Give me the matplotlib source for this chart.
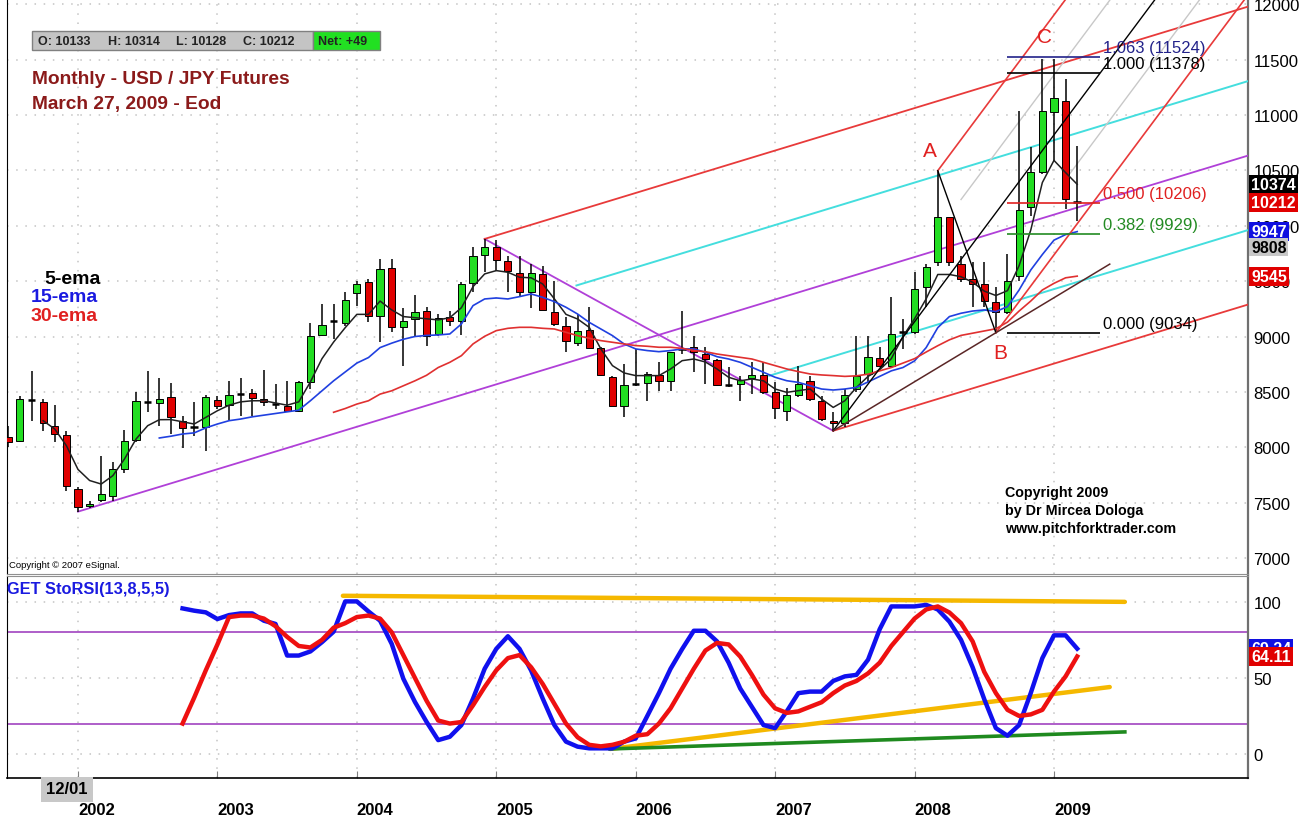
import matplotlib
matplotlib.use("Agg")
import matplotlib.pyplot as plt
import matplotlib.transforms as mtransforms
from matplotlib.patches import Rectangle
import numpy as np

plt.rcParams['font.family'] = ['Liberation Sans', 'DejaVu Sans']

W, H = 1313, 820

# monthly bars, bar 0 = Jul 2001, last bar = Mar 2009
first_year, first_month = 2001, 7
opens = [8090, 8060, 8430, 8412, 8189, 8114, 7623, 7467, 7527, 7563,
         7804, 8069, 8408, 8400, 8451, 8240, 8180, 8180, 8430, 8385,
         8481, 8487, 8436, 8391, 8376, 8331, 8586, 9014, 9143, 9119,
         9390, 9489, 9188, 9619, 9089, 9158, 9228, 9023, 9179, 9143,
         9483, 9736, 9805, 9685, 9571, 9399, 9565, 9225, 9092, 8942,
         9059, 8893, 8638, 8376, 8571, 8580, 8656, 8596, 8887, 8902,
         8842, 8788, 8562, 8571, 8625, 8656, 8502, 8331, 8475, 8601,
         8421, 8240, 8219, 8526, 8662, 8802, 8736, 9037, 9037, 9443,
         9669, 10075, 9654, 9519, 9474, 9308, 9218, 9549, 10166, 10482,
         11024, 11129, 10225]
highs = [8195, 8466, 8692, 8436, 8382, 8150, 7638, 7518, 7924, 7864,
         8156, 8496, 8692, 8623, 8577, 8285, 8412, 8475, 8466, 8601,
         8623, 8526, 8701, 8571, 8601, 8601, 9119, 9294, 9294, 9405,
         9504, 9519, 9700, 9700, 9255, 9375, 9264, 9203, 9233, 9489,
         9805, 9881, 9870, 9730, 9730, 9655, 9640, 9504, 9173, 9203,
         9264, 8902, 8647, 8752, 8887, 8677, 8767, 8863, 9233, 9008,
         8902, 8797, 8722, 8647, 8767, 8767, 8586, 8532, 8737, 8647,
         8466, 8322, 8526, 9008, 9008, 8902, 9353, 9157, 9579, 9654,
         10497, 10075, 9729, 9669, 9669, 9443, 9744, 11039, 10708, 11505,
         11505, 11325, 10723]
lows = [7999, 8050, 8240, 8150, 8045, 7608, 7419, 7448, 7503, 7518,
        7765, 8045, 8322, 8195, 8120, 7990, 8105, 7970, 8345, 8249,
        8285, 8285, 8376, 8346, 8322, 8316, 8526, 9008, 8978, 9098,
        9279, 9128, 8948, 9038, 8737, 9008, 8918, 9008, 9098, 9014,
        9399, 9580, 9595, 9399, 9354, 9255, 9240, 9098, 8857, 8917,
        8896, 8647, 8376, 8270, 8556, 8421, 8511, 8511, 8842, 8677,
        8571, 8556, 8541, 8421, 8481, 8481, 8255, 8240, 8451, 8421,
        8240, 8149, 8180, 8496, 8586, 8721, 8721, 8887, 9022, 9263,
        9639, 9639, 9495, 9263, 9263, 9034, 9203, 9504, 10091, 10467,
        10587, 10151, 10045]
closes = [8045, 8436, 8430, 8216, 8120, 7647, 7458, 7487, 7577, 7804,
          8060, 8415, 8408, 8436, 8270, 8174, 8180, 8451, 8370, 8475,
          8481, 8442, 8406, 8391, 8331, 8586, 9008, 9104, 9143, 9330,
          9474, 9182, 9610, 9089, 9143, 9218, 9002, 9165, 9143, 9474,
          9724, 9811, 9691, 9595, 9399, 9571, 9240, 9113, 8957, 9053,
          8896, 8656, 8376, 8565, 8571, 8662, 8601, 8857, 8887, 8857,
          8797, 8562, 8562, 8610, 8656, 8496, 8352, 8472, 8571, 8436,
          8255, 8216, 8475, 8646, 8812, 8736, 9022, 9037, 9428, 9624,
          10075, 9669, 9519, 9474, 9323, 9218, 9504, 10145, 10482, 11039,
          11150, 10241, 10212]

# moving averages (first bar index, values)
ema5_start = 3
ema5 = [8240, 8165, 8015, 7800, 7700, 7668, 7744, 7894, 8075, 8195, 8249,
        8250, 8230, 8210, 8270, 8330, 8380, 8410, 8420, 8420, 8400,
        8380, 8410, 8590, 8800, 8950, 9080, 9200, 9200, 9320, 9240,
        9180, 9170, 9160, 9150, 9170, 9260, 9450, 9565, 9595, 9580,
        9535, 9530, 9474, 9340, 9200, 9158, 9083, 8888, 8737, 8671,
        8647, 8647, 8647, 8707, 8782, 8797, 8770, 8707, 8632, 8600,
        8617, 8600, 8526, 8496, 8511, 8526, 8436, 8360, 8420, 8540,
        8640, 8700, 8800, 9000, 9160, 9340, 9560, 9560, 9540, 9490,
        9410, 9370, 9414, 9640, 9960, 10390, 10590, 10480, 10374]
ema15_start = 13
ema15 = [8084, 8100, 8120, 8130, 8175, 8210, 8240, 8255, 8275, 8290,
         8305, 8320, 8335, 8420, 8510, 8600, 8680, 8760, 8810, 8900,
         8940, 8975, 9000, 9010, 9014, 9023, 9113, 9279, 9339, 9348,
         9339, 9360, 9384, 9354, 9315, 9264, 9203, 9128, 9068, 9008,
         8933, 8888, 8873, 8863, 8873, 8888, 8888, 8857, 8818, 8797,
         8767, 8722, 8677, 8632, 8601, 8586, 8556, 8526, 8517, 8526,
         8541, 8590, 8640, 8690, 8720, 8780, 8900, 9080, 9180, 9210,
         9230, 9240, 9225, 9270, 9420, 9600, 9740, 9870, 9920, 9947]
ema30_start = 28
ema30 = [8316, 8350, 8390, 8420, 8480, 8510, 8555, 8600, 8650, 8720,
         8767, 8827, 8933, 9002, 9053, 9074, 9083, 9083, 9074, 9068,
         9038, 9008, 8984, 8963, 8948, 8933, 8918, 8912, 8903, 8903,
         8893, 8873, 8863, 8842, 8827, 8812, 8797, 8767, 8737, 8707,
         8683, 8662, 8653, 8647, 8640, 8645, 8660, 8690, 8720, 8760,
         8800, 8860, 8917, 8970, 9010, 9030, 9050, 9070, 9130, 9230,
         9320, 9420, 9480, 9530, 9545]

# StoRSI(13,8,5,5)
sto_start = 15
sto_fast = [95.7, 94.2, 93.1, 88.7, 91.3, 92.4, 92.4, 87.6, 85.5, 64.7,
            64.7, 67.4, 73.5, 80.4, 100.3, 100.3, 93.7, 87.6, 72.4, 49.5,
            34.2, 21.1, 9.1, 11.3, 19.0, 36.4, 56.0, 69.1, 77.4, 69.1,
            54.9, 36.4, 19.0, 8.1, 4.8, 3.7, 3.7, 3.7, 8.1, 10.2,
            25, 40, 56, 69, 81, 81, 74, 60, 43, 31,
            19, 17, 28, 40, 41, 41, 48, 51, 52, 62,
            82, 97, 97, 97, 98, 95, 87, 75, 57, 36,
            17, 12, 19, 40, 63, 78, 78, 69.24]
sto_slow = [20, 37, 55, 72, 90, 91, 91, 89, 84, 77,
            71, 70, 75, 83, 86, 90, 91, 89, 80, 65,
            50, 35, 22, 20, 21, 32, 44, 55, 63, 65,
            57, 46, 33, 20, 11, 6, 5, 6, 8, 12,
            13, 20, 30, 43, 56, 68, 73, 72, 64, 52,
            39, 30, 27, 28, 31, 34, 40, 45, 48, 53,
            60, 71, 80, 89, 95, 97, 93, 86, 74, 54,
            40, 29, 25, 26, 29, 41, 51, 64.11]
sto_levels = [20, 80]
# hand-drawn trend lines on the oscillator: (x0, v0, x1, v1)
sto_top_line = (28.8, 104, 96.1, 100)
sto_rise_line = (51.8, 3.3, 94.8, 44)
sto_base_line = (51.8, 3.3, 96.1, 14.5)

# pitchforks: (bar, price) pivots
fork1 = [(6, 7419), (41, 9881), (71, 8149)]
fork2 = [(71, 8149), (80, 10497), (85, 9034)]

# fibonacci retracement block
fib_ratios = ['1.063', '1.000', '0.500', '0.382', '0.000']
fib_prices = [11524, 11378, 10206, 9929, 9034]
fib_colors = ['#22228a', 'black', '#e02020', '#228b22', 'black']

# value tags on the price scale
tag_values = [10374, 10212, 9947, 9808, 9545]
tag_faces = ['black', '#e00000', '#1010e0', '#c8c8c8', '#e00000']
tag_inks = ['white', 'white', 'white', 'black', 'white']
sto_tag_values = [69.24, 64.11]
sto_tag_faces = ['#1010e0', '#e00000']

last_labels = ['O', 'H', 'L', 'C']
last_values = [10133, 10314, 10128, 10212]
net_change = '+49'

years = list(range(2002, 2010))

green = '#22dd22'
red = '#e00000'
violet = '#b040d8'
pf_red = '#e83a3a'
cyan = '#44dede'


def fx(px):
    return px / W


def fy(py):
    return 1 - py / H


fig = plt.figure(figsize=(W / 100, H / 100), dpi=100)
ax = fig.add_axes([fx(7), fy(575), fx(1248) - fx(7), fy(0) - fy(575)])
sto = fig.add_axes([fx(7), fy(779), fx(1248) - fx(7), fy(577) - fy(779)])

xmin, xmax = -0.11, 106.7
year_pos = [(y - first_year) * 12 + 1 - first_month for y in years]

for a in (ax, sto):
    a.set_xlim(xmin, xmax)
    a.set_facecolor('white')
    a.set_axisbelow(True)
    a.yaxis.tick_right()
    a.spines['left'].set_color('black')
    a.spines['right'].set_color('#707070')
    a.spines['right'].set_linewidth(1.6)
    a.tick_params(axis='y', length=0, pad=4, labelsize=12)
    a.set_xticks(year_pos)
    a.grid(True, color='#c4c4c4', linestyle=(0, (1, 5)), linewidth=1.1)

ax.set_ylim(6856, 12047)
ax.set_yticks(np.arange(7000, 12001, 500))
ax.spines['top'].set_visible(False)
ax.spines['bottom'].set_color('#909090')
ax.tick_params(axis='x', length=0, labelbottom=False)

sto.set_ylim(-15.8, 117)
sto.set_yticks([0, 50, 100])
sto.spines['top'].set_color('#909090')
sto.spines['bottom'].set_linewidth(1.2)
sto.set_xticklabels([str(y) for y in years], fontweight='bold', fontsize=12)
for lbl in sto.get_xticklabels():
    lbl.set_horizontalalignment('left')
sto.tick_params(axis='x', direction='in', length=5, color='#808080', pad=17)

# candles
idx = np.arange(len(closes))
o, h, l, c = map(np.array, (opens, highs, lows, closes))
ax.vlines(idx, l, h, color='black', linewidth=1.1, zorder=4)
has_body = np.abs(c - o) >= 15
up = (c > o) & has_body
dn = (c < o) & has_body
ax.bar(idx[up], (c - o)[up], bottom=o[up], width=0.62, color=green,
       edgecolor='black', linewidth=0.7, zorder=5)
ax.bar(idx[dn], (o - c)[dn], bottom=c[dn], width=0.62, color=red,
       edgecolor='black', linewidth=0.7, zorder=5)
ax.hlines(c[~has_body], idx[~has_body] - 0.32, idx[~has_body] + 0.32,
          color='black', linewidth=1.8, zorder=5)

# moving averages
ax.plot(np.arange(ema5_start, ema5_start + len(ema5)), ema5, color='#202020', lw=1.1, zorder=6)
ax.plot(np.arange(ema15_start, ema15_start + len(ema15)), ema15, color='#2040e0', lw=1.2, zorder=6)
ax.plot(np.arange(ema30_start, ema30_start + len(ema30)), ema30, color='#e03030', lw=1.2, zorder=6)


def line_at(p, slope, x):
    return p[1] + slope * (x - p[0])


# pitchfork 1
p0, p1, p2 = fork1
mid = ((p1[0] + p2[0]) / 2, (p1[1] + p2[1]) / 2)
s1 = (mid[1] - p0[1]) / (mid[0] - p0[0])
ax.plot([p0[0], xmax], [p0[1], line_at(p0, s1, xmax)], color=violet, lw=1.3, zorder=3)
ax.plot([p1[0], p2[0]], [p1[1], p2[1]], color=violet, lw=1.3, zorder=3)
ax.plot([p1[0], xmax], [p1[1], line_at(p1, s1, xmax)], color=pf_red, lw=1.3, zorder=3)
ax.plot([p2[0], xmax], [p2[1], line_at(p2, s1, xmax)], color=pf_red, lw=1.3, zorder=3)
for start, side in ((48.9, p1), (65.5, p2)):
    xs = np.array([start, xmax])
    ys = (line_at(p0, s1, xs) + line_at(side, s1, xs)) / 2
    ax.plot(xs, ys, color=cyan, lw=1.4, zorder=3)

# pitchfork 2
q0, qa, qb = fork2
mid2 = ((qa[0] + qb[0]) / 2, (qa[1] + qb[1]) / 2)
s2 = (mid2[1] - q0[1]) / (mid2[0] - q0[0])
ax.plot([q0[0], xmax], [q0[1], line_at(q0, s2, xmax)], color='black', lw=1.0, zorder=6)
ax.plot([qa[0], xmax], [qa[1], line_at(qa, s2, xmax)], color=pf_red, lw=1.2, zorder=6)
ax.plot([qb[0], xmax], [qb[1], line_at(qb, s2, xmax)], color=pf_red, lw=1.2, zorder=6)
ax.plot([qa[0], qb[0]], [qa[1], qb[1]], color='black', lw=1.0, zorder=6)
for start, side in ((82.0, qa), (91.4, qb)):
    xs = np.array([start, xmax])
    ys = (line_at(mid2, s2, xs) + line_at(side, s2, xs)) / 2
    ax.plot(xs, ys, color='#c8c8c8', lw=1.0, zorder=3)
s_b = (qb[1] - q0[1]) / (qb[0] - q0[0])
ax.plot([q0[0], 94.8], [q0[1], line_at(q0, s_b, 94.8)], color='#5a2626', lw=1.1, zorder=6)

# fibonacci levels
ax.hlines(fib_prices, 86, 94, colors=fib_colors, lw=1.2, zorder=6)
for r, p, col in zip(fib_ratios, fib_prices, fib_colors):
    ax.text(94.2, p + 15, f'{r} ({p})', color=col, fontsize=12, va='bottom', ha='left', zorder=7)

for txt, x, y in (('A', 79.3, 10675), ('B', 85.4, 8860), ('C', 89.2, 11704)):
    ax.text(x, y, txt, color='#e02020', fontsize=15, ha='center', va='center', zorder=7)

# price tags on the right scale
tag_tr = mtransforms.blended_transform_factory(ax.transAxes, ax.transData)
for v, fc, ink in zip(tag_values, tag_faces, tag_inks):
    ax.text(1.0 + 3 / 1241, v, f'{v}', transform=tag_tr, color=ink, fontsize=11.5,
            fontweight='bold', ha='left', va='center', clip_on=False, zorder=10,
            bbox=dict(boxstyle='square,pad=0.12', fc=fc, ec='none'))
sto_tr = mtransforms.blended_transform_factory(sto.transAxes, sto.transData)
for v, fc in zip(sto_tag_values, sto_tag_faces):
    sto.text(1.0 + 3 / 1241, v, f'{v:.2f}', transform=sto_tr, color='white', fontsize=11.5,
             fontweight='bold', ha='left', va='center', clip_on=False, zorder=10,
             bbox=dict(boxstyle='square,pad=0.12', fc=fc, ec='none'))

# oscillator panel
sto.axhline(sto_levels[0], color='#9933bb', lw=1.1, zorder=2)
sto.axhline(sto_levels[1], color='#9933bb', lw=1.1, zorder=2)
for x0, v0, x1, v1 in (sto_top_line, sto_rise_line):
    sto.plot([x0, x1], [v0, v1], color='#f5b800', lw=3.2, zorder=3, solid_capstyle='round')
x0, v0, x1, v1 = sto_base_line
sto.plot([x0, x1], [v0, v1], color='#1f8a1f', lw=2.6, zorder=3)
sx = np.arange(sto_start, sto_start + len(sto_fast))
sto.plot(sx, sto_fast, color='#1010ee', lw=3.2, zorder=4)
sto.plot(sx, sto_slow, color='#ee1010', lw=3.2, zorder=5)

# header texts
fig.patches.append(Rectangle((fx(32), fy(51)), fx(313) - fx(32), 19 / H, transform=fig.transFigure,
                             fc='#c4c4c4', ec='#808080', lw=1))
fig.patches.append(Rectangle((fx(313), fy(51)), fx(380) - fx(313), 19 / H, transform=fig.transFigure,
                             fc='#22e022', ec='#808080', lw=1))
for lab, val, px in zip(last_labels, last_values, (38, 108, 176, 243)):
    fig.text(fx(px), fy(42), f'{lab}: {val}', fontsize=9, fontweight='bold', va='center', color='#222222')
fig.text(fx(318), fy(42), f'Net: {net_change}', fontsize=9, fontweight='bold', va='center', color='#222222')

fig.text(fx(32), fy(80), 'Monthly - USD / JPY Futures', color='#8b1a1a', fontsize=13.8,
         fontweight='bold', va='center')
fig.text(fx(32), fy(104), 'March 27, 2009 - Eod', color='#8b1a1a', fontsize=13.8,
         fontweight='bold', va='center')

for txt, col, py, px in (('5-ema', 'black', 280, 44), ('15-ema', '#1a1ae0', 298, 31),
                         ('30-ema', '#e02020', 317, 31)):
    fig.text(fx(px), fy(py), txt, color=col, fontsize=14, fontweight='bold', va='center')

for i, line in enumerate(['Copyright 2009', 'by Dr Mircea Dologa', 'www.pitchforktrader.com']):
    fig.text(fx(1005), fy(493 + 18 * i), line, fontsize=10.3, fontweight='bold', va='center')

fig.text(fx(9), fy(566), 'Copyright \u00a9 2007 eSignal.', fontsize=6.8, va='center')
fig.text(fx(7), fy(590), 'GET StoRSI(13,8,5,5)', color='#1a1ae0', fontsize=11.8,
         fontweight='bold', va='center')
fig.text(fx(46), fy(790), '12/01', fontsize=12, fontweight='bold', va='center',
         bbox=dict(boxstyle='square,pad=0.3', fc='#c8c8c8', ec='none'))

fig.savefig('out.png', dpi=100, facecolor='white')
